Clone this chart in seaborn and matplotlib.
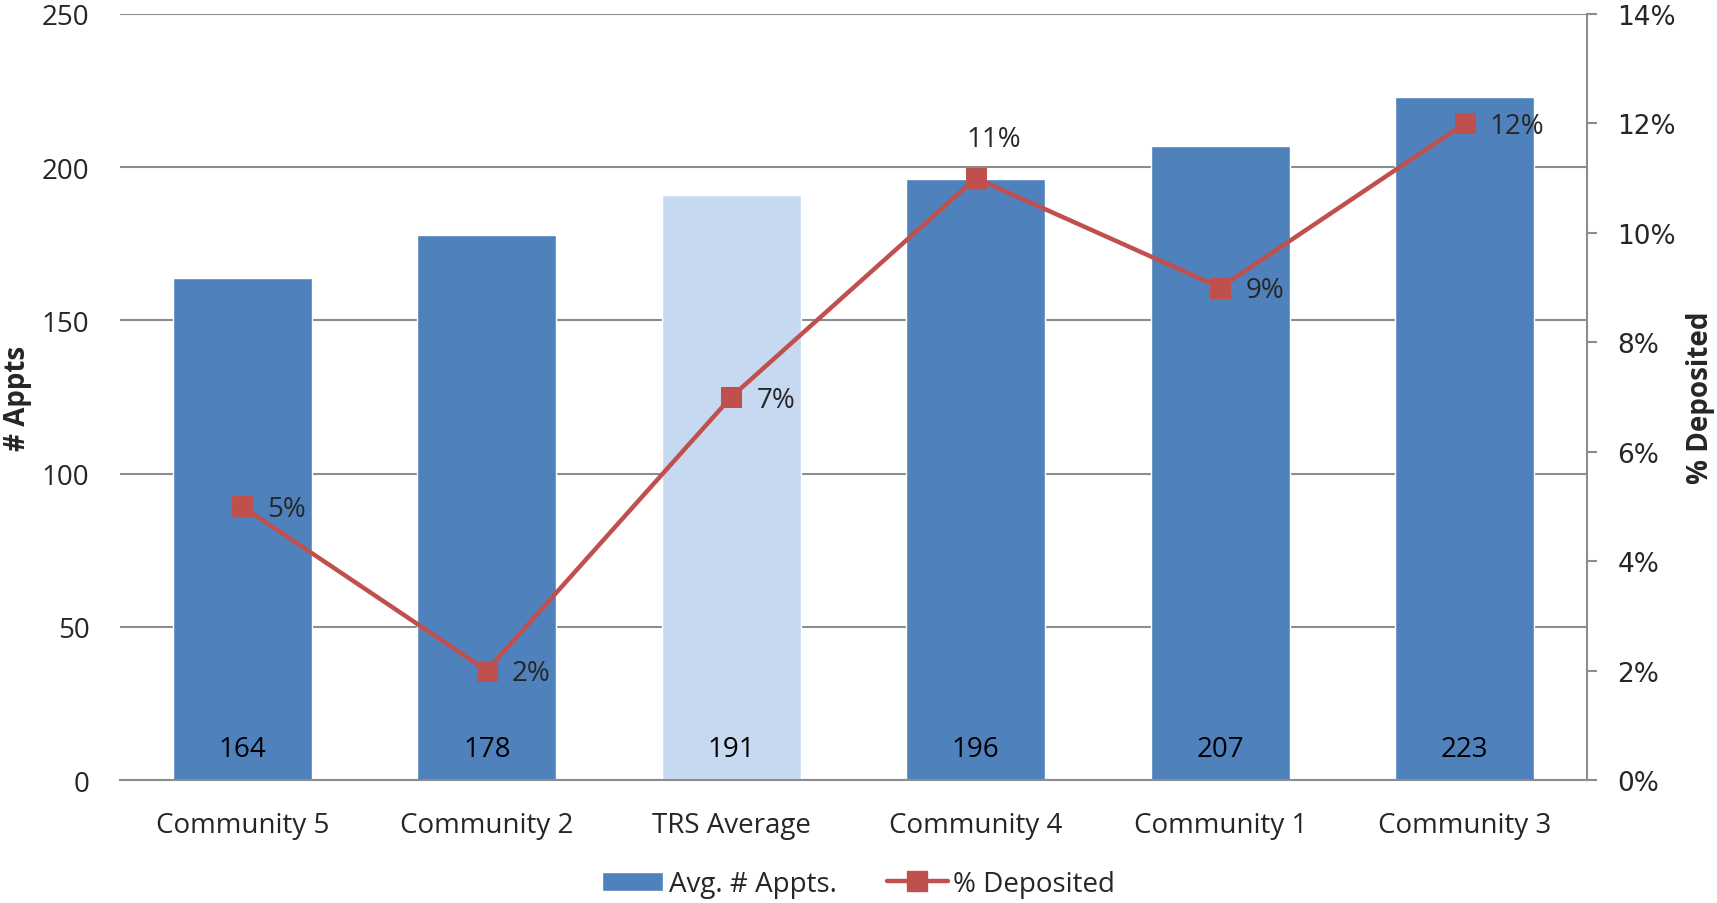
import matplotlib.pyplot as plt
import seaborn as sns
import numpy as np
import pandas as pd
from matplotlib.patches import Patch
import matplotlib.lines as mlines
from matplotlib.ticker import PercentFormatter

# Dados
categories = ["Community 5", "Community 2", "TRS Average", "Community 4", "Community 1", "Community 3"]
avg_appts = [164, 178, 191, 196, 207, 223]
pct_deposited = [5, 2, 7, 11, 9, 12]
is_average = [False, False, True, False, False, False]

bar_blue = "#4F81BD"
bar_light = "#C6D9F1"
line_red = "#C0504D"
grid_grey = "#8C8C8C"

sns.set_style("white")
plt.rcParams['font.family'] = ['Open Sans', 'DejaVu Sans']

df = pd.DataFrame({"cat": categories, "appts": avg_appts, "pct": pct_deposited,
                   "avg": ["avg" if a else "com" for a in is_average]})

W, H = 1717, 904
fig = plt.figure(figsize=(W / 100, H / 100), dpi=100)
ax = fig.add_axes([120 / W, 1 - 781 / H, (1587 - 120) / W, (781 - 15) / H])

# Barras (média em azul claro)
sns.barplot(data=df, x="cat", y="appts", hue="avg", palette={"com": bar_blue, "avg": bar_light},
            dodge=False, width=0.57, legend=False, ax=ax, saturation=1, zorder=2)
ax.set_ylim(0, 250)
ax.set_yticks(np.arange(0, 251, 50))
ax.set_xlim(-0.5, len(categories) - 0.5)
ax.grid(axis='y', color=grid_grey, linewidth=1.5, zorder=0)
ax.set_axisbelow(True)
for s in ["top", "left", "right"]:
    ax.spines[s].set_visible(False)
ax.spines["bottom"].set_color(grid_grey)
ax.spines["bottom"].set_linewidth(1.5)
ax.tick_params(axis='x', length=0, labelsize=20, pad=22)
ax.tick_params(axis='y', length=0, labelsize=20, pad=22)
ax.set_xlabel("")
ax.set_ylabel("")

# Rótulos dentro das barras, perto da base
for i, v in enumerate(avg_appts):
    ax.text(i, 10, str(v), ha='center', va='center', fontsize=20, color='black', zorder=5)

# Eixo secundário: % depositado
ax2 = ax.twinx()
sns.lineplot(x=categories, y=pct_deposited, ax=ax2, color=line_red, linewidth=3.2,
             marker='s', markersize=14, markeredgecolor=line_red, sort=False, zorder=4)
ax2.set_ylim(0, 14)
ax2.set_yticks(np.arange(0, 15, 2))
ax2.yaxis.set_major_formatter(PercentFormatter(decimals=0))
for s in ["top", "left", "bottom"]:
    ax2.spines[s].set_visible(False)
ax2.spines["right"].set_color(grid_grey)
ax2.spines["right"].set_linewidth(1.5)
ax2.tick_params(axis='y', direction='out', length=7, width=1.5, color=grid_grey,
                labelsize=19, pad=15)
for lbl in ax2.get_yticklabels():
    lbl.set_family('DejaVu Sans')
ax2.set_ylabel("")

# Títulos dos eixos
fig.text(17 / W, 1 - 398 / H, "# Appts", rotation=90, ha='center', va='center',
         fontsize=20, fontweight='bold')
fig.text(1700 / W, 1 - 398 / H, "% Deposited", rotation=90, ha='center', va='center',
         fontsize=20, fontweight='bold')

# Rótulos percentuais
for i, p in enumerate(pct_deposited):
    if p == 11:
        ax2.annotate(f"{p}%", (i, p), xytext=(13, 28), textcoords='offset points',
                     ha='center', va='center', fontsize=20)
    else:
        ax2.annotate(f"{p}%", (i, p), xytext=(18, -2), textcoords='offset points',
                     ha='left', va='center', fontsize=20)

# Legenda na parte de baixo
legend_elements = [
    Patch(facecolor=bar_blue, label='Avg. # Appts.'),
    mlines.Line2D([], [], color=line_red, marker='s', markersize=14, linewidth=3.2,
                  label='% Deposited'),
]
fig.legend(handles=legend_elements, loc='center', bbox_to_anchor=(0.5, 1 - 885 / H),
           ncol=2, frameon=False, fontsize=20, handlelength=2.2, handletextpad=0.2,
           columnspacing=1.8)

fig.savefig('out.png', dpi=100)
